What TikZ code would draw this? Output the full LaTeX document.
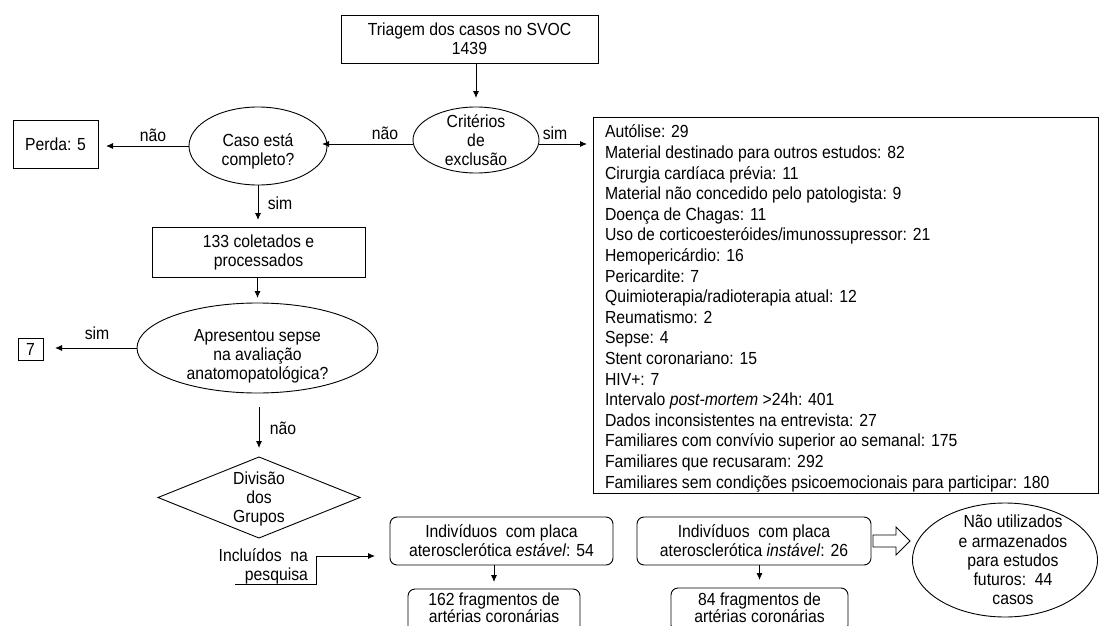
\documentclass[tikz,border=0pt]{standalone}
\usepackage{fontspec}
\setmainfont{Liberation Sans}[FakeStretch=0.9]
\usetikzlibrary{shapes.geometric,arrows.meta,calc}
\begin{document}
\begin{tikzpicture}[x=1pt,y=-1pt,
  every node/.style={font=\fontsize{17.5}{19}\selectfont, inner sep=0pt, outer sep=0pt},
  box/.style={draw, line width=0.9pt, align=center},
  rbox/.style={box, rounded corners=7pt},
  oval/.style={draw, ellipse, line width=0.9pt},
  dia/.style={draw, diamond, line width=0.9pt},
  arr/.style={line width=0.9pt, -{Latex[length=7pt,width=6pt]}},
  hollow/.style={draw, line width=0.9pt, fill=white},
  txt/.style={align=center}
]
\clip (0,0) rectangle (1100,626);
\fill[white] (0,0) rectangle (1100,626);

% top
\node[box, minimum width=257, minimum height=48] (tri) at (469.5,39) {Triagem dos casos no SVOC\\1439};
\node[oval, minimum width=126, minimum height=66,
  label={[txt]center:{Critérios\\de\\exclusão}}] (crit) at (476,140) {};
\draw[arr, shorten >=9pt] (tri.south -| crit) -- (crit.north);

% exclusion list
\node[box, anchor=north west, minimum width=505, minimum height=376] (excl) at (593,117) {};
\node[anchor=north west, align=left, font=\fontsize{17.5}{20.6}\selectfont] (exclt) at (605,125) {%
Autólise: 29\\
Material destinado para outros estudos: 82\\
Cirurgia cardíaca prévia: 11\\
Material não concedido pelo patologista: 9\\
Doença de Chagas: 11\\
Uso de corticoesteróides/imunossupressor: 21\\
Hemopericárdio: 16\\
Pericardite: 7\\
Quimioterapia/radioterapia atual: 12\\
Reumatismo: 2\\
Sepse: 4\\
Stent coronariano: 15\\
HIV+: 7\\
Intervalo \textit{post-mortem} >24h: 401\\
Dados inconsistentes na entrevista: 27\\
Familiares com convívio superior ao semanal: 175\\
Familiares que recusaram: 292\\
Familiares sem condições psicoemocionais para participar: 180};

\coordinate (ce) at ($(crit.east)+(0,4)$);
\draw[arr, shorten >=6pt] (ce) -- (ce -| excl.west);
\node (lsim1) at (555,133) {sim};

% caso
\node[oval, minimum width=138, minimum height=78,
  label={[txt, yshift=-5pt]center:{Caso está\\completo?}}] (caso) at (258,146) {};
\coordinate (cw) at ($(crit.west)+(0,4)$);
\draw[arr, shorten >=-5pt] (cw) -- (cw -| caso.east);
\node (lnao1) at (385,133) {não};

\node[box, minimum width=85, minimum height=48] (perda) at (55.5,144) {Perda: 5};
\draw[arr, shorten >=8pt] (caso.west) -- (caso.west -| perda.east);
\node (lnao2) at (153,135) {não};

% coletados
\node[box, minimum width=213, minimum height=50] (col) at (258.5,252) {133 coletados e\\processados};
\draw[arr, shorten >=7pt] (caso.south) -- (caso.south |- col.north);
\node (lsim2) at (280,203) {sim};

% sepse
\node[oval, minimum width=241, minimum height=90,
  label={[txt, yshift=-8pt]center:{Apresentou sepse\\na avaliação\\anatomopatológica?}}] (apr) at (257.5,348) {};
\draw[arr, shorten >=5pt] (col.south -| apr.north) -- (apr.north);

\node[box, minimum width=25, minimum height=22] (seven) at (30.5,349) {7};
\draw[arr, shorten >=12pt] (apr.west) -- (apr.west -| seven.east);
\node (lsim3) at (97,333) {sim};

% divisao
\node[dia, minimum width=202, minimum height=81,
  label={[txt, yshift=-1.5pt]center:{Divisão\\dos\\Grupos}}] (div) at (259,497.5) {};
\draw[arr, shorten <=14pt, shorten >=9pt] (apr.south -| div.north) -- (div.north);
\node (lnao3) at (283,428) {não};

% incluidos
\node[anchor=east, align=right] (inc) at (308,566) {Incluídos\ \ na\\pesquisa};

% groups
\node[rbox, minimum width=223, minimum height=48] (b1) at (501.5,541) {Indivíduos\ \ com placa\\aterosclerótica \textit{estável}: 54};
\node[rbox, minimum width=172, minimum height=44, anchor=north] (f1) at (494,589) {};
\node[txt, font=\fontsize{17.5}{16.5}\selectfont] (f1t) at (494,607.5) {162 fragmentos de\\artérias coronárias};
\draw[arr, shorten >=7pt] (f1.north |- b1.south) -- (f1.north);

\node[rbox, minimum width=234, minimum height=48] (b2) at (754,541) {Indivíduos\ \ com placa\\aterosclerótica \textit{instável}: 26};
\node[rbox, minimum width=177, minimum height=44, anchor=north] (f2) at (759.5,588) {};
\node[txt, font=\fontsize{17.5}{16.5}\selectfont] (f2t) at (759.5,607.5) {84 fragmentos de\\artérias coronárias};
\draw[arr, shorten >=8pt] (f2.north |- b2.south) -- (f2.north);

\coordinate (inc0) at (235,584);
\coordinate (inc1) at (316,584);
\coordinate (inc2) at (316,556);
\draw[arr, shorten >=15pt] (inc0) -- (inc1) -- (inc2) -- (inc2 -| b1.west);

% future
\node[oval, minimum width=185, minimum height=114,
  label={[txt, xshift=8pt, font=\fontsize{17.5}{19.2}\selectfont]center:{Não utilizados\\e armazenados\\para estudos\\futuros:\ \ 44\\casos}}] (fut) at (1005,560) {};
\draw[hollow] ($(b2.east)+(2,-6)$) -- ++(23,0) -- ++(0,-8) -- ++(14,14) -- ++(-14,14) -- ++(0,-8) -- ++(-23,0) -- cycle;
\end{tikzpicture}
\end{document}
